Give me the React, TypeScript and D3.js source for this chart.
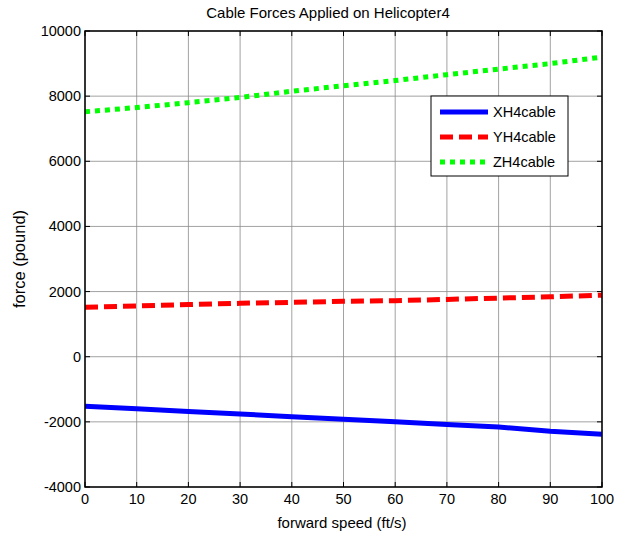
import React from "react";
import * as d3 from "d3";

const speeds = [0, 10, 20, 30, 40, 50, 60, 70, 80, 90, 100];
const xh4 = [-1520, -1600, -1680, -1760, -1840, -1920, -2000, -2080, -2160, -2290, -2380];
const yh4 = [1520, 1560, 1600, 1640, 1670, 1700, 1720, 1760, 1800, 1840, 1890];
const zh4 = [7520, 7650, 7800, 7960, 8150, 8320, 8480, 8660, 8830, 9000, 9200];
const xTicks = [0, 10, 20, 30, 40, 50, 60, 70, 80, 90, 100];
const yTicks = [-4000, -2000, 0, 2000, 4000, 6000, 8000, 10000];

const series = [
  { name: "XH4cable", values: xh4, color: "#0000ff", dash: "none" },
  { name: "YH4cable", values: yh4, color: "#ff0000", dash: "13,6" },
  { name: "ZH4cable", values: zh4, color: "#00ff00", dash: "5,5" },
];

const W = 626;
const H = 538;
const left = 85;
const right = 602;
const top = 31;
const bottom = 487;
const font = "'Liberation Sans', Arial, sans-serif";

export default function App() {
  const x = d3.scaleLinear().domain([0, 100]).range([left, right]);
  const y = d3.scaleLinear().domain([-4000, 10000]).range([bottom, top]);
  const line = d3
    .line<number>()
    .x((_, i) => x(speeds[i]))
    .y((d) => y(d));

  const legX = 431;
  const legY = 96;

  return (
    <svg
      width={W}
      height={H}
      style={{ position: "absolute", left: 0, top: 0, background: "#fff" }}
      fontFamily={font}
    >
      <rect x={0} y={0} width={W} height={H} fill="#fff" />
      {/* grid */}
      {xTicks.map((t) => (
        <line key={"gx" + t} x1={x(t)} x2={x(t)} y1={top} y2={bottom} stroke="#8a8a8a" strokeWidth={0.8} />
      ))}
      {yTicks.map((t) => (
        <line key={"gy" + t} x1={left} x2={right} y1={y(t)} y2={y(t)} stroke="#8a8a8a" strokeWidth={0.8} />
      ))}
      {/* tick marks on all four sides */}
      {xTicks.map((t) => (
        <g key={"tx" + t} stroke="#000" strokeWidth={1}>
          <line x1={x(t)} x2={x(t)} y1={bottom} y2={bottom - 5} />
          <line x1={x(t)} x2={x(t)} y1={top} y2={top + 5} />
        </g>
      ))}
      {yTicks.map((t) => (
        <g key={"ty" + t} stroke="#000" strokeWidth={1}>
          <line x1={left} x2={left + 5} y1={y(t)} y2={y(t)} />
          <line x1={right} x2={right - 5} y1={y(t)} y2={y(t)} />
        </g>
      ))}
      {/* data lines */}
      {series.map((s) => (
        <path
          key={s.name}
          d={line(s.values) || ""}
          fill="none"
          stroke={s.color}
          strokeWidth={5}
          strokeDasharray={s.dash}
        />
      ))}
      {/* frame */}
      <rect x={left} y={top} width={right - left} height={bottom - top} fill="none" stroke="#000" strokeWidth={1.5} />
      {/* tick labels */}
      {xTicks.map((t) => (
        <text key={"lx" + t} x={x(t)} y={bottom + 17} textAnchor="middle" fontSize={14.5} fill="#000">
          {t}
        </text>
      ))}
      {yTicks.map((t) => (
        <text key={"ly" + t} x={left - 4} y={y(t) + 5} textAnchor="end" fontSize={14.5} fill="#000">
          {t}
        </text>
      ))}
      {/* titles */}
      <text x={328} y={18} textAnchor="middle" fontSize={15} fill="#000">
        Cable Forces Applied on Helicopter4
      </text>
      <text x={342} y={528} textAnchor="middle" fontSize={15} fill="#000">
        forward speed (ft/s)
      </text>
      <text
        transform={`translate(25,${(top + bottom) / 2}) rotate(-90)`}
        textAnchor="middle"
        fontSize={16.5}
        fill="#000"
      >
        force (pound)
      </text>
      {/* legend */}
      <rect x={legX} y={legY} width={137} height={80} fill="#fff" stroke="#000" strokeWidth={1} />
      {series.map((s, i) => (
        <g key={"leg" + s.name}>
          <line
            x1={legX + 9}
            x2={legX + 57}
            y1={legY + 16 + i * 25}
            y2={legY + 16 + i * 25}
            stroke={s.color}
            strokeWidth={5}
            strokeDasharray={s.dash}
          />
          <text x={legX + 62} y={legY + 21 + i * 25} fontSize={14.5} fill="#000">
            {s.name}
          </text>
        </g>
      ))}
    </svg>
  );
}
